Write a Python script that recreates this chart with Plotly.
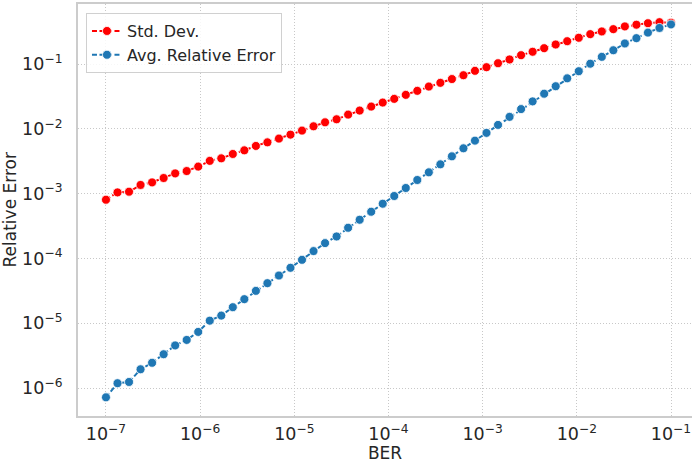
import numpy as np
import plotly.graph_objects as go

ber = np.logspace(-7, -1, 50)

std_dev = [8.05e-4, 1.044e-3, 1.07e-3, 1.36e-3, 1.49e-3, 1.74e-3, 2.05e-3, 2.23e-3, 2.61e-3, 3.20e-3,
           3.50e-3, 4.09e-3, 4.65e-3, 5.44e-3, 6.18e-3, 7.06e-3, 8.13e-3, 9.38e-3, 0.01093, 0.01259,
           0.01403, 0.01656, 0.0191, 0.02203, 0.0254, 0.02897, 0.03342, 0.03855, 0.04487, 0.0512,
           0.0586, 0.0671, 0.0785, 0.0893, 0.1028, 0.1175, 0.1368, 0.1545, 0.1754, 0.200,
           0.2249, 0.254, 0.289, 0.318, 0.345, 0.380, 0.404, 0.426, 0.442, 0.434]

avg_rel_err = [7.18e-7, 1.186e-6, 1.239e-6, 1.945e-6, 2.45e-6, 3.32e-6, 4.54e-6, 5.52e-6, 7.34e-6, 1.094e-5,
               1.31e-5, 1.766e-5, 2.35e-5, 3.155e-5, 4.15e-5, 5.44e-5, 7.16e-5, 9.51e-5, 1.297e-4, 1.722e-4,
               2.18e-4, 2.97e-4, 3.95e-4, 5.25e-4, 6.98e-4, 9.18e-4, 1.221e-3, 1.622e-3, 2.13e-3, 2.83e-3,
               3.76e-3, 5.0e-3, 6.57e-3, 8.65e-3, 0.01148, 0.01528, 0.02015, 0.0265, 0.0348, 0.0454,
               0.0601, 0.0774, 0.1011, 0.129, 0.163, 0.2075, 0.2506, 0.305, 0.360, 0.408]

series_names = ["Std. Dev.", "Avg. Relative Error"]
x_title = "BER"
y_title = "Relative Error"

FONT = "DejaVu Sans"
TXT = "#262626"

fig = go.Figure()
fig.add_trace(go.Scatter(
    x=ber, y=std_dev, name=series_names[0], mode="lines+markers",
    line=dict(color="#ff0000", width=2, dash="5px,2.5px"),
    marker=dict(color="#ff0000", size=9, line=dict(color="white", width=0.8)),
))
fig.add_trace(go.Scatter(
    x=ber, y=avg_rel_err, name=series_names[1], mode="lines+markers",
    line=dict(color="#1f77b4", width=2, dash="5px,2.5px"),
    marker=dict(color="#1f77b4", size=9, line=dict(color="white", width=0.8)),
))

fig.update_layout(
    width=692, height=463,
    margin=dict(l=78, r=0, t=4, b=47),
    paper_bgcolor="white", plot_bgcolor="white",
    font=dict(family=FONT, size=14, color=TXT),
    showlegend=True,
    legend=dict(
        x=0.013, y=0.978, xanchor="left", yanchor="top",
        bgcolor="rgba(255,255,255,0.85)", bordercolor="#d0d0d0", borderwidth=1,
        font=dict(family=FONT, size=16, color=TXT),
        itemwidth=30, tracegroupgap=0,
    ),
    annotations=[dict(
        text=y_title, xref="paper", yref="paper", x=-0.11, y=0.5,
        xanchor="center", yanchor="middle", textangle=-90, showarrow=False,
        font=dict(family=FONT, size=17, color=TXT),
    )],
)

fig.update_xaxes(
    type="log", range=[-7.297, -0.777], dtick=1, automargin=False,
    exponentformat="power", showexponent="all", ticklabeloverflow="allow",
    showgrid=True, gridcolor="#c8c8c8", griddash="1px,2px", gridwidth=1.2,
    showline=True, linecolor="#cccccc", linewidth=1.5, mirror=True,
    ticks="outside", ticklen=2, tickcolor="rgba(0,0,0,0)",
    tickfont=dict(family=FONT, size=14, color=TXT),
    zeroline=False,
    title=dict(text=x_title, standoff=2),
    title_font=dict(family=FONT, size=17, color=TXT),
)
fig.update_yaxes(
    type="log", range=[-6.432, -0.074], dtick=1, automargin=False,
    exponentformat="power", showexponent="all", ticklabeloverflow="allow",
    showgrid=True, gridcolor="#c8c8c8", griddash="1px,2px", gridwidth=1.2,
    showline=True, linecolor="#cccccc", linewidth=1.5, mirror=False,
    ticks="outside", ticklen=11, tickcolor="rgba(0,0,0,0)",
    tickfont=dict(family=FONT, size=14, color=TXT),
    zeroline=False,
)

fig.write_html("out.html", post_script="document.body.style.margin='0';",
               config={"displayModeBar": False})
